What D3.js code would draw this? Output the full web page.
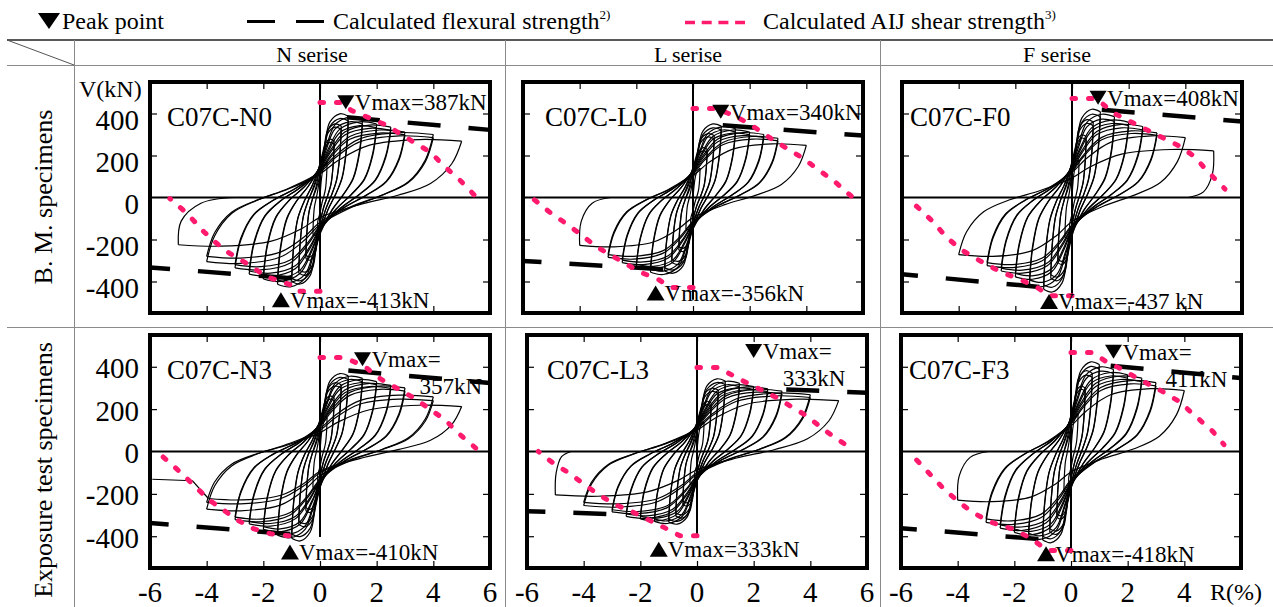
<!DOCTYPE html>
<html>
<head>
<meta charset="utf-8">
<title>Hysteresis loops</title>
<script src="https://cdn.jsdelivr.net/npm/d3@7"></script>
<style>
  body { margin: 0; background: #fff; }
  text { font-family: "Liberation Serif", "Times New Roman", serif; fill: #000; }
</style>
</head>
<body>
<svg id="chart" width="1273" height="607"></svg>
<script>
// ---- data ----
const specimens = ["C07C-N0", "C07C-L0", "C07C-F0", "C07C-N3", "C07C-L3", "C07C-F3"];
const seriesNames = ["N serise", "L serise", "F serise"];
const rowNames = ["B. M. specimens", "Exposure test specimens"];
const yTicks = [-400, -200, 0, 200, 400];
const xTicks = [-6, -4, -2, 0, 2, 4, 6];

// cycle peaks: drift R (%) and shear V (kN), positive then negative per cycle
const cycR = [0.25, 0.5, 0.5, 0.75, 0.75, 1, 1, 1.5, 1.5, 2, 2, 2.5, 2.5, 3, 3, 4, 4, 5];

const posV_N0 = [170, 270, 255, 340, 325, 387, 365, 372, 350, 350, 332, 335, 320, 312, 298, 300, 285, 268];
const negV_N0 = [-175, -290, -275, -360, -345, -400, -385, -413, -392, -388, -372, -365, -350, -335, -320, -305, -280, -225];
const posV_L0 = [140, 230, 215, 295, 280, 340, 322, 328, 312, 312, 298, 300, 286, 282, 270, 248];
const negV_L0 = [-150, -250, -235, -310, -295, -350, -335, -356, -340, -330, -318, -310, -298, -285, -272, -228];
const posV_F0 = [180, 290, 275, 360, 342, 408, 385, 385, 362, 358, 342, 338, 322, 308, 296, 285, 222];
const negV_F0 = [-190, -310, -295, -385, -368, -437, -415, -412, -392, -378, -362, -350, -336, -324, -310, -272];
const posV_N3 = [160, 255, 240, 315, 300, 357, 340, 345, 330, 330, 315, 312, 298, 300, 285, 258, 240, 212];
const negV_N3 = [-170, -280, -265, -345, -330, -410, -390, -395, -378, -368, -355, -342, -330, -322, -310, -272, -240, -222];
const posV_L3 = [140, 230, 215, 290, 275, 333, 316, 322, 306, 306, 292, 296, 283, 285, 272, 268, 255, 240];
const negV_L3 = [-150, -250, -235, -305, -290, -333, -320, -330, -318, -318, -305, -306, -295, -285, -275, -255, -240, -205];
const posV_F3 = [180, 300, 285, 370, 350, 411, 390, 388, 368, 362, 346, 346, 330, 325, 310, 288];
const negV_F3 = [-185, -310, -295, -380, -365, -418, -400, -402, -386, -382, -366, -362, -346, -335, -318, -230];

// F0 reaches +5 only on the positive side, N3 ends its last pull at -3.94
const posR_F0 = [0.25, 0.5, 0.5, 0.75, 0.75, 1, 1, 1.5, 1.5, 2, 2, 2.5, 2.5, 3, 3, 4, 5];
const negR_N3 = [-0.25, -0.5, -0.5, -0.75, -0.75, -1, -1, -1.5, -1.5, -2, -2, -2.5, -2.5, -3, -3, -4, -4, -3.94];

// final unloading point of each test (null = tail instead)
const endPoints = [[-3.0, 0], [-2.9, 0], [4.1, 0], null, [-4.45, 0], [-2.9, 0]];
const tailR_N3 = [-3.94, -4.5, -5.92];
const tailV_N3 = [-222, -138, -131];

// calculated flexural strength (R, V) segments
const flexPos = [[[0.95, 382], [6, 322]], [[1.05, 344], [6, 295]], [[1.05, 418], [6, 362]],
                 [[1.0, 382], [6, 323]], [[3.15, 293], [6, 277]], [[1.4, 405], [6, 347]]];
const flexNeg = [[[-1.0, -385], [-6, -333]], [[-1.05, -342], [-6, -302]], [[-1.15, -426], [-6, -366]],
                 [[-1.05, -390], [-6, -338]], [[-3.2, -295], [-6, -282]], [[-1.15, -413], [-6, -362]]];

// calculated AIJ shear strength
const aijPosR = [[0, 0.8, 1.1, 2.35, 3.3, 3.9, 4.35, 4.95, 5.5], [0, 0.8, 1.45, 2.0, 2.85, 3.85, 4.45, 5.0, 5.6],
                 [0, 0.85, 1.5, 2.2, 2.9, 3.85, 4.3, 4.8, 5.4], [0, 0.85, 1.55, 2.15, 3.3, 3.9, 4.4, 4.95, 5.5],
                 [0, 0.75, 1.6, 2.8, 3.3, 3.9, 4.4, 4.9, 5.5], [0, 0.77, 1.2, 1.8, 2.4, 3.1, 3.8, 4.4, 5.0, 5.4]];
const aijPosV = [[452, 452, 415, 344, 264, 216, 153, 81, 5], [424, 424, 390, 350, 272, 190, 130, 76, 5],
                 [471, 471, 400, 352, 305, 241, 197, 123, 40], [444, 444, 404, 341, 254, 198, 151, 79, 16],
                 [396, 396, 335, 255, 214, 166, 111, 63, 10], [467, 467, 428, 388, 341, 293, 238, 166, 95, 32]];
const aijNegR = [[0, -0.8, -1.0, -1.9, -2.6, -3.2, -3.65, -4.1, -4.7, -5.3], [0, -0.8, -1.2, -1.9, -2.7, -3.4, -4.4, -5.0, -5.7],
                 [0, -0.8, -1.2, -1.8, -2.55, -3.2, -3.9, -4.45, -4.9, -5.5], [-1.1, -1.75, -2.35, -2.9, -3.4, -3.9, -4.4, -4.95, -5.55],
                 [0, -0.6, -1.2, -1.8, -2.4, -2.85, -3.45, -3.95, -4.5, -5.0, -5.6], [0, -0.85, -1.15, -1.5, -2.1, -2.85, -3.4, -3.9, -4.45, -4.95, -5.45]];
const aijNegV = [[-447, -447, -418, -376, -313, -265, -218, -163, -75, -5], [-428, -428, -392, -353, -290, -235, -131, -76, 0],
                 [-468, -468, -431, -392, -352, -305, -250, -187, -116, -40], [-398, -388, -364, -325, -277, -230, -166, -95, -24],
                 [-398, -398, -356, -317, -277, -253, -206, -158, -103, -63, 0], [-467, -467, -436, -404, -364, -333, -293, -245, -182, -111, -40]];

// peak point labels
const vmaxTopText = ["Vmax=387kN", "Vmax=340kN", "Vmax=408kN", "Vmax=", "Vmax=", "Vmax="];
const vmaxTopText2 = [null, null, null, "357kN", "333kN", "411kN"];
const vmaxBotText = ["Vmax=-413kN", "Vmax=-356kN", "Vmax=-437 kN", "Vmax=-410kN", "Vmax=333kN", "Vmax=-418kN"];

// ---- layout ----
const W = 1273, H = 607;
const panels = [
  { x0: 150, x1: 490, y0: 82, y1: 313, nameDx: 17, axisLow: -447, topMark: [0.91, 454], botMark: [-1.38, -487] },
  { x0: 523, x1: 863, y0: 82, y1: 313, nameDx: 22, axisLow: -487, topMark: [0.98, 408], botMark: [-1.32, -455] },
  { x0: 902, x1: 1242, y0: 82, y1: 313, nameDx: 8, axisLow: -479, topMark: [0.92, 475], botMark: [-0.81, -495] },
  { x0: 150, x1: 490, y0: 335, y1: 568, nameDx: 17, axisLow: -404, topMark: [1.5, 436], botMark: [-1.06, -475], dx2: 57 },
  { x0: 527, x1: 867, y0: 335, y1: 568, nameDx: 20, axisLow: -404, topMark: [2.0, 475], botMark: [-1.35, -462], dx2: 29 },
  { x0: 901, x1: 1241, y0: 335, y1: 568, nameDx: 8, axisLow: -481, topMark: [1.5, 471], botMark: [-0.88, -483], dx2: 52 }
];

const posVs = [posV_N0, posV_L0, posV_F0, posV_N3, posV_L3, posV_F3];
const negVs = [negV_N0, negV_L0, negV_F0, negV_N3, negV_L3, negV_F3];
const posRs = [cycR, cycR, posR_F0, cycR, cycR, cycR];
const negRs = [null, null, null, negR_N3, null, null];

const PINK = "#ff1a6e";
const svg = d3.select("#chart");

// ---- table frame ----
const grid = svg.append("g").attr("stroke", "#8a8a8a").attr("stroke-width", 1);
grid.append("line").attr("x1", 7).attr("x2", W).attr("y1", 40).attr("y2", 40).attr("stroke", "#222").attr("stroke-width", 1.6);
grid.append("line").attr("x1", 7).attr("x2", W).attr("y1", 65.5).attr("y2", 65.5);
grid.append("line").attr("x1", 7).attr("x2", W).attr("y1", 327.5).attr("y2", 327.5);
[74.5, 505.5, 880.5].forEach(xv => grid.append("line").attr("x1", xv).attr("x2", xv).attr("y1", 40).attr("y2", H));
grid.append("line").attr("x1", 7).attr("y1", 40).attr("x2", 74).attr("y2", 65).attr("stroke", "#555");

// header
[312, 688, 1057].forEach((xv, i) =>
  svg.append("text").attr("x", xv).attr("y", 62).attr("text-anchor", "middle").attr("font-size", 22).text(seriesNames[i]));
[197, 470].forEach((yv, i) =>
  svg.append("text").attr("transform", `translate(52,${yv}) rotate(-90)`).attr("text-anchor", "middle")
    .attr("font-size", 26).text(rowNames[i]));

// triangle marker
function tri(cx, cy, w, h, down) {
  const s = down ? 1 : -1;
  return `M${cx - w / 2},${cy - s * h / 2}L${cx + w / 2},${cy - s * h / 2}L${cx},${cy + s * h / 2}Z`;
}

// legend
svg.append("path").attr("d", tri(49, 21, 22, 16, true)).attr("fill", "#000");
svg.append("text").attr("x", 62).attr("y", 29).attr("font-size", 24).text("Peak point");
svg.append("line").attr("x1", 247).attr("x2", 327).attr("y1", 21.5).attr("y2", 21.5)
  .attr("stroke", "#000").attr("stroke-width", 3).attr("stroke-dasharray", "28,21");
const lt1 = svg.append("text").attr("x", 333).attr("y", 29).attr("font-size", 24);
lt1.append("tspan").text("Calculated flexural strength");
lt1.append("tspan").attr("font-size", 13).attr("dy", -10).text("2)");
svg.append("line").attr("x1", 685).attr("x2", 745).attr("y1", 22.5).attr("y2", 22.5)
  .attr("stroke", PINK).attr("stroke-width", 3.5).attr("stroke-dasharray", "10,6.7");
const lt2 = svg.append("text").attr("x", 763).attr("y", 29).attr("font-size", 24);
lt2.append("tspan").text("Calculated AIJ shear strength");
lt2.append("tspan").attr("font-size", 13).attr("dy", -10).text("3)");

// half cycle shape between two opposite peaks
function halfCycle(from, to) {
  const [rs, vs] = from, [re, ve] = to;
  const s = Math.sign(re);
  const a = Math.abs(rs), A = Math.abs(vs), b = Math.abs(re), B = Math.abs(ve);
  const p = (r, v) => [s * r, s * v];
  return [from, p(-0.93 * a, -0.6 * A), p(-0.78 * a, -0.25 * A), p(-0.55 * a, -0.04 * A),
          p(-0.28 * a, 0.15 * B), p(0, 0.42 * B), p(0.12 * b + 0.05, 0.66 * B),
          p(0.35 * b, 0.93 * B), p(0.7 * b, 1.03 * B), to];
}

panels.forEach((p, i) => {
  const x = d3.scaleLinear().domain([-6, 6]).range([p.x0, p.x1]);
  const y = d3.scaleLinear().domain([-550, 550]).range([p.y1, p.y0]);
  const g = svg.append("g");
  const line = d3.line().x(d => x(d[0])).y(d => y(d[1]));
  const curve = d3.line().x(d => x(d[0])).y(d => y(d[1])).curve(d3.curveCatmullRom.alpha(0.5));

  // inner ticks
  g.append("g").attr("transform", `translate(0,${p.y0})`)
    .call(d3.axisTop(x).tickValues([-4, -2, 0, 2, 4]).tickSize(-7).tickFormat(""));
  g.append("g").attr("transform", `translate(0,${p.y1})`)
    .call(d3.axisBottom(x).tickValues([-4, -2, 0, 2, 4]).tickSize(-7).tickFormat(""));
  g.append("g").attr("transform", `translate(${p.x0},0)`)
    .call(d3.axisLeft(y).tickValues([-400, -200, 200, 400]).tickSize(-7).tickFormat(""));
  g.append("g").attr("transform", `translate(${p.x1},0)`)
    .call(d3.axisRight(y).tickValues([-400, -200, 200, 400]).tickSize(-7).tickFormat(""));
  g.selectAll(".domain").remove();
  g.selectAll(".tick line").attr("stroke", "#000").attr("stroke-width", 1.2);

  // zero lines
  g.append("line").attr("x1", p.x0).attr("x2", p.x1).attr("y1", y(0)).attr("y2", y(0))
    .attr("stroke", "#000").attr("stroke-width", 2);
  g.append("line").attr("x1", x(0)).attr("x2", x(0)).attr("y1", p.y0).attr("y2", y(p.axisLow))
    .attr("stroke", "#000").attr("stroke-width", 2);

  // hysteresis loops
  const pr = posRs[i], pv = posVs[i], nv = negVs[i];
  const nr = negRs[i] || pr.map(r => -r);
  const peaks = [];
  for (let k = 0; k < pv.length; k++) {
    peaks.push([pr[k], pv[k]]);
    if (k < nv.length) peaks.push([nr[k], nv[k]]);
  }
  const halves = [[[0, 0], [0.5 * peaks[0][0], 0.85 * peaks[0][1]], peaks[0]]];
  for (let k = 1; k < peaks.length; k++) halves.push(halfCycle(peaks[k - 1], peaks[k]));
  const last = peaks[peaks.length - 1];
  const endP = endPoints[i];
  if (endP) {
    halves.push([last, [last[0] + 0.05 * (endP[0] - last[0]), 0.5 * last[1]],
                 [last[0] + 0.4 * (endP[0] - last[0]), 0.12 * last[1]], endP]);
  }
  g.append("g").selectAll("path").data(halves).join("path")
    .attr("d", curve).attr("fill", "none").attr("stroke", "#000").attr("stroke-width", 1.2);
  if (i === 3) {
    g.append("path").attr("d", line(tailR_N3.map((r, k) => [r, tailV_N3[k]])))
      .attr("fill", "none").attr("stroke", "#000").attr("stroke-width", 1.2);
  }

  // flexural strength
  [flexPos[i], flexNeg[i]].forEach(seg =>
    g.append("path").attr("d", line(seg)).attr("fill", "none").attr("stroke", "#000")
      .attr("stroke-width", 4.5).attr("stroke-dasharray", "33,28"));

  // AIJ shear strength
  [aijPosR[i].map((r, k) => [r, aijPosV[i][k]]), aijNegR[i].map((r, k) => [r, aijNegV[i][k]])].forEach(pts =>
    g.append("path").attr("d", line(pts)).attr("fill", "none").attr("stroke", PINK)
      .attr("stroke-width", 5).attr("stroke-linecap", "round").attr("stroke-dasharray", "3.5,13"));

  // frame
  g.append("rect").attr("x", p.x0).attr("y", p.y0).attr("width", p.x1 - p.x0).attr("height", p.y1 - p.y0)
    .attr("fill", "none").attr("stroke", "#000").attr("stroke-width", 4);

  // specimen name
  g.append("text").attr("x", p.x0 + p.nameDx).attr("y", p.y0 + 44).attr("font-size", 27).text(specimens[i]);

  // peak labels
  const tx = x(p.topMark[0]), ty = y(p.topMark[1]);
  g.append("path").attr("d", tri(tx, ty, 17, 14, true)).attr("fill", "#000");
  g.append("text").attr("x", tx + 9).attr("y", ty + 8).attr("font-size", 23).text(vmaxTopText[i]);
  if (vmaxTopText2[i]) {
    g.append("text").attr("x", tx + p.dx2).attr("y", ty + 35).attr("font-size", 23).text(vmaxTopText2[i]);
  }
  const bx = x(p.botMark[0]), by = y(p.botMark[1]);
  g.append("path").attr("d", tri(bx, by, 18, 15, false)).attr("fill", "#000");
  g.append("text").attr("x", bx + 9).attr("y", by + 8).attr("font-size", 23).text(vmaxBotText[i]);

  // y tick labels on the left column
  if (i % 3 === 0) {
    const off = i === 0 ? 16.5 : 11.5;
    g.selectAll(".ylab").data(yTicks).join("text").attr("class", "ylab")
      .attr("x", 139).attr("y", d => y(d) + off).attr("text-anchor", "end").attr("font-size", 29)
      .text(d => d);
  }
  if (i === 0) {
    g.append("text").attr("x", 79).attr("y", 97).attr("font-size", 24).text("V(kN)");
  }
  // x tick labels on the bottom row
  if (i >= 3) {
    const xs = i === 5 ? xTicks.filter(d => d !== 6) : xTicks;
    g.selectAll(".xlab").data(xs).join("text").attr("class", "xlab")
      .attr("x", d => x(d)).attr("y", 602).attr("text-anchor", "middle").attr("font-size", 29)
      .text(d => d);
    if (i === 5) g.append("text").attr("x", 1210).attr("y", 600).attr("font-size", 24).text("R(%)");
  }
});
</script>
</body>
</html>
